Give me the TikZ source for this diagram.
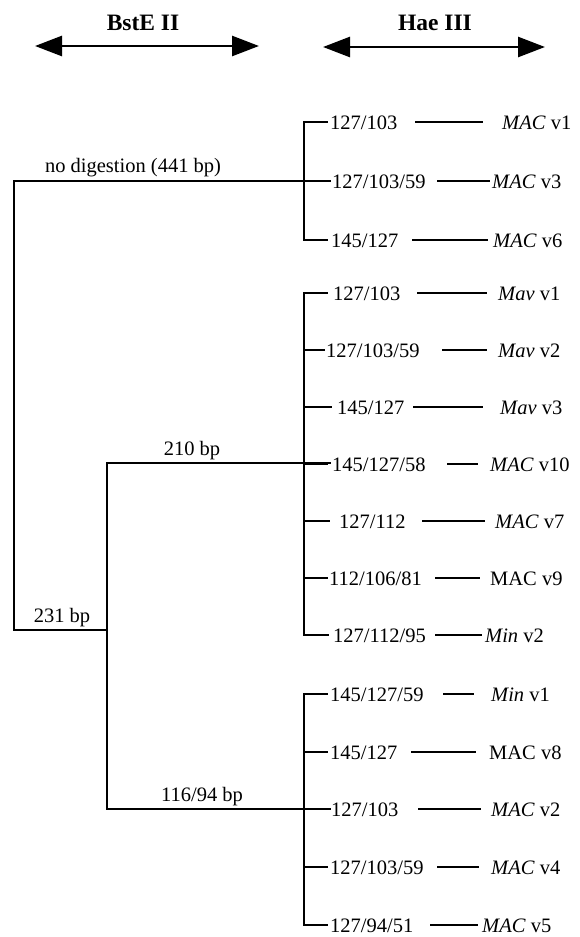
\documentclass[tikz,border=0pt]{standalone}
\usepackage{fontspec}
\setmainfont{Liberation Serif}
\usetikzlibrary{arrows.meta}
\begin{document}
\begin{tikzpicture}[x=1pt,y=-1pt,
  tree/.style={line width=2pt, line join=miter, line cap=rect},
  tickline/.style={line width=1.6pt},
  dashline/.style={line width=1.8pt},
  lbl/.style={inner sep=0pt, anchor=base west, font=\fontsize{20.5}{24}\selectfont},
  blbl/.style={inner sep=0pt, anchor=base, font=\fontsize{20.5}{24}\selectfont},
  head/.style={font=\bfseries\fontsize{23.5}{28}\selectfont, inner sep=0pt},
  dbl/.style={line width=2.6pt, {Triangle[length=27pt,width=20pt]}-{Triangle[length=27pt,width=20pt]}}]
\useasboundingbox (0,0) rectangle (579,937);

% headers
\node[head] (bste) at (143,23) {BstE II};
\node[head] (hae) at (435,23) {Hae III};
\coordinate (bl) at (35,46);
\coordinate (br) at (259,46);
\coordinate (hl) at (323,47);
\coordinate (hr) at (545,47);
\draw[dbl] (bl) -- (br);
\draw[dbl] (hl) -- (hr);

% tree junctions
\coordinate (root) at (14,181);
\coordinate (rootb) at (14,630);
\coordinate (mid) at (107,630);
\coordinate (midt) at (107,463);
\coordinate (midb) at (107,809);
\coordinate (g1t) at (304,122);
\coordinate (g1b) at (304,240);
\coordinate (g2t) at (304,293);
\coordinate (g2b) at (304,635);
\coordinate (g3t) at (304,694);
\coordinate (g3b) at (304,925);
\coordinate (e1) at (330,181);
\coordinate (e2) at (330,463);
\coordinate (e3) at (330,809);

\draw[tree] (e1) -- (root) -- (rootb) -- (mid);
\draw[tree] (e2) -- (midt) -- (midb) -- (e3);
\draw[tree] (g1t) -- (g1b);
\draw[tree] (g2t) -- (g2b);
\draw[tree] (g3t) -- (g3b);

% branch labels
\node[blbl] (lnd) at (133,172) {no digestion (441 bp)};
\node[blbl] (l210) at (192,455) {210 bp};
\node[blbl] (l231) at (62,622) {231 bp};
\node[blbl] (l116) at (202,801) {116/94 bp};

% leaves: index / y / tick end / text x / dash start / dash end / name x / number / name
\foreach \i/\y/\te/\tx/\da/\db/\nx/\num/\nm in {
  1/122/328/330/415/483/502/{127/103}/{\textit{MAC} v1},
  2/181/330/332/437/490/492/{127/103/59}/{\textit{MAC} v3},
  3/240/328/331/412/488/493/{145/127}/{\textit{MAC} v6},
  4/293/328/333/417/487/498/{127/103}/{\textit{Mav} v1},
  5/350/325/326/442/487/498/{127/103/59}/{\textit{Mav} v2},
  6/407/332/337/413/483/500/{145/127}/{\textit{Mav} v3},
  7/464/328/332/447/478/490/{145/127/58}/{\textit{MAC} v10},
  8/521/330/339/422/485/495/{127/112}/{\textit{MAC} v7},
  9/578/328/329/435/480/490/{112/106/81}/{MAC v9},
  10/635/329/333/435/482/485/{127/112/95}/{\textit{Min} v2},
  11/694/328/330/443/474/491/{145/127/59}/{\textit{Min} v1},
  12/752/328/330/411/476/489/{145/127}/{MAC v8},
  13/809/330/331/418/481/491/{127/103}/{\textit{MAC} v2},
  14/867/328/330/437/479/491/{127/103/59}/{\textit{MAC} v4},
  15/925/328/330/430/478/482/{127/94/51}/{\textit{MAC} v5}} {
  \coordinate (s\i) at (304,\y);
  \coordinate (t\i) at (\te,\y);
  \node[lbl] (n\i) at (\tx,\y+7) {\num};
  \coordinate (da\i) at (\da,\y);
  \coordinate (db\i) at (\db,\y);
  \node[lbl] (m\i) at (\nx,\y+7) {\nm};
  \draw[tickline] (s\i) -- (t\i);
  \draw[dashline] (da\i) -- (db\i);
}
\end{tikzpicture}
\end{document}
